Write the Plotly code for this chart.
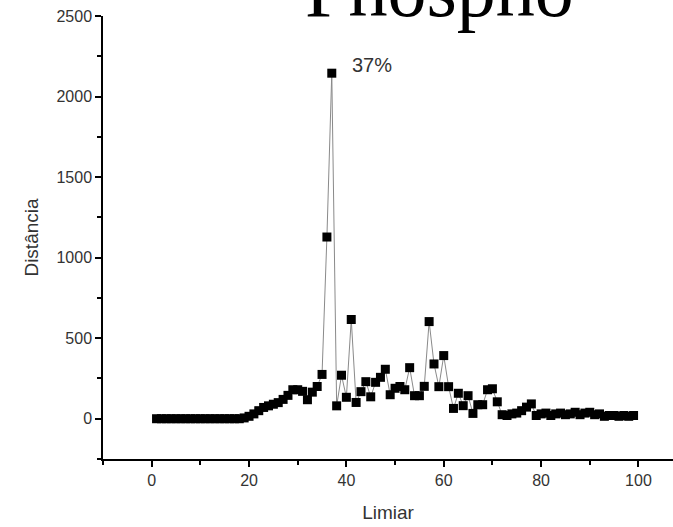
import plotly.graph_objects as go

limiar = list(range(1, 100))
distancia = [
    0, 0, 0, 0, 0, 0, 0, 0, 0, 0,          # 1-10
    0, 0, 0, 0, 0, 0, 0, 0, 5, 15,         # 11-20
    30, 50, 70, 80, 90, 100, 120, 145, 180, 180,   # 21-30
    170, 118, 165, 200, 275, 1128, 2145, 80, 270, 133,  # 31-40
    616, 101, 168, 230, 136, 226, 257, 307, 149, 189,  # 41-50
    200, 180, 317, 143, 143, 201, 603, 340, 199, 392,  # 51-60
    199, 64, 158, 81, 143, 33, 87, 87, 180, 186,       # 61-70
    105, 25, 20, 30, 35, 50, 72, 92, 20, 30,           # 71-80
    35, 20, 30, 35, 25, 30, 40, 25, 35, 40,            # 81-90
    25, 30, 15, 20, 20, 15, 20, 15, 20,                # 91-99
]

title_text = "Phospho"
peak_label = "37%"
peak_x = 37
x_title = "Limiar"
y_title = "Distância"
x_ticks = [0, 20, 40, 60, 80, 100]
y_ticks = [0, 500, 1000, 1500, 2000, 2500]

fig = go.Figure()
fig.add_trace(go.Scatter(
    x=limiar, y=distancia, mode="lines+markers",
    line=dict(color="#8a8a8a", width=1),
    marker=dict(symbol="square", size=9, color="black"),
    showlegend=False,
))

fig.add_annotation(
    x=peak_x + 3.7, y=2195, xref="x", yref="y", text=peak_label,
    showarrow=False, xanchor="left", yanchor="middle",
    font=dict(family="Liberation Sans, Arial", size=20, color="#333"),
)
fig.add_annotation(
    x=0.35, y=0.957, xref="paper", yref="paper", text=title_text,
    showarrow=False, xanchor="left", yanchor="bottom",
    font=dict(family="Liberation Serif, Times New Roman", size=78, color="black"),
)

axis_font = dict(family="Liberation Sans, Arial", size=16, color="#333")
fig.update_layout(
    width=673, height=527,
    margin=dict(l=103, r=0, t=16, b=68, autoexpand=False),
    paper_bgcolor="white", plot_bgcolor="white",
    font=axis_font,
    xaxis=dict(
        range=[-10, 107.1], tickvals=x_ticks, showgrid=False, zeroline=False,
        showline=True, linecolor="black", linewidth=1.5, automargin=False,
        ticks="outside", ticklen=6, tickwidth=1.5, tickcolor="black",
        minor=dict(dtick=10, tick0=0, ticks="outside", ticklen=4, tickwidth=1.5, tickcolor="black"),
        title=dict(text=x_title, font=dict(size=19, color="#333"), standoff=18),
        tickfont=axis_font,
    ),
    yaxis=dict(
        range=[-250, 2500], tickvals=y_ticks, showgrid=False, zeroline=False,
        showline=True, linecolor="black", linewidth=1.5, automargin=False,
        ticks="outside", ticklen=6, tickwidth=1.5, tickcolor="black",
        minor=dict(dtick=250, tick0=0, ticks="outside", ticklen=4, tickwidth=1.5, tickcolor="black"),
        title=dict(text=y_title, font=dict(size=19, color="#333"), standoff=13),
        tickfont=axis_font, ticklabeloverflow="allow",
    ),
)

# remove the browser's default 8px body margin so the figure sits at the window corner
fig.write_html(
    "out.html",
    config={"displayModeBar": False},
    post_script="document.body.style.margin='0px';",
)
